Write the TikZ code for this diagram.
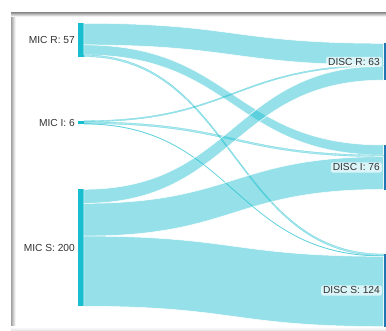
\documentclass[tikz,border=0pt]{standalone}
\usepackage{fontspec}
\setmainfont{Liberation Sans}
\usepackage{xcolor}
\usetikzlibrary{calc,positioning}

\definecolor{micbar}{HTML}{17BECF}
\definecolor{discbar}{HTML}{1F77B4}
\definecolor{flowc}{HTML}{17BECF}
\definecolor{labeltext}{HTML}{333333}

% one count in px
\newcommand{\kk}{0.585}
% band from a source bar to a target bar: offsets and width in counts
\newcommand{\flow}[6][bigflow]{%
  \path[#1] ($(#2.north east)+(0,{#3*\kk})$) .. controls +(150,0) and +(-150,0) .. ($(#4.north west)+(0,{#5*\kk})$)
    -- ($(#4.north west)+(0,{(#5+#6)*\kk})$) .. controls +(-150,0) and +(150,0) .. ($(#2.north east)+(0,{(#3+#6)*\kk})$) -- cycle;}

\begin{document}
\begin{tikzpicture}[x=1pt,y=-1pt,
    micnode/.style={rectangle,fill=micbar,inner sep=0pt,minimum width=5.5pt,anchor=north west},
    discnode/.style={rectangle,fill=discbar,inner sep=0pt,minimum width=5.5pt,anchor=north west},
    miclabel/.style={text=labeltext,font=\fontsize{10.2}{12}\selectfont,inner sep=1pt},
    disclabel/.style={text=labeltext,font=\fontsize{10.2}{12}\selectfont,fill=white,fill opacity=0.65,text opacity=1,
      rounded corners=2pt,inner xsep=2pt,inner ysep=1.5pt},
    bigflow/.style={fill=flowc,fill opacity=0.45,draw=white,line width=0.5pt},
    thinflow/.style={fill=flowc,fill opacity=0.35,draw=flowc,draw opacity=0.55,line width=0.3pt}]
    \clip (0,0) rectangle (386,331);
    \fill[white] (0,0) rectangle (386,331);

    % screenshot frame
    \shade[left color=gray!75,right color=white] (11,13) rectangle (15.5,331);
    \shade[top color=gray!75,bottom color=white] (11,13) rectangle (386,16.5);
    \shade[top color=white,bottom color=gray!25] (11,327) rectangle (386,331);

    % bars
    \node[micnode,minimum height=33.35pt] (micR) at (78,23.3) {};
    \node[micnode,minimum height=3.5pt] (micI) at (78,120.7) {};
    \node[micnode,minimum height=117pt] (micS) at (78,189.3) {};
    \node[discnode,minimum height=36.85pt] (discR) at (383.5,43.3) {};
    \node[discnode,minimum height=44.45pt] (discI) at (383.5,145) {};
    \node[discnode,minimum height=72.55pt] (discS) at (383.5,254) {};

    % flows
    \flow{micR}{0}{discR}{0}{37}
    \flow{micR}{37}{discI}{0}{17}
    \flow[thinflow]{micR}{54}{discS}{0}{3}
    \flow[thinflow]{micI}{0}{discR}{37}{2}
    \flow[thinflow]{micI}{2}{discI}{17}{3}
    \flow[thinflow]{micI}{5}{discS}{3}{1}
    \flow{micS}{0}{discR}{39}{24}
    \flow{micS}{24}{discI}{20}{56}
    \flow{micS}{80}{discS}{4}{120}

    % labels
    \node[miclabel,left=2pt of micR] {MIC R: 57};
    \node[miclabel,left=2pt of micI] {MIC I: 6};
    \node[miclabel,left=2pt of micS] {MIC S: 200};
    \node[disclabel,left=1.5pt of discR] {DISC R: 63};
    \node[disclabel,left=1.5pt of discI] {DISC I: 76};
    \node[disclabel,left=1.5pt of discS] {DISC S: 124};
\end{tikzpicture}
\end{document}
